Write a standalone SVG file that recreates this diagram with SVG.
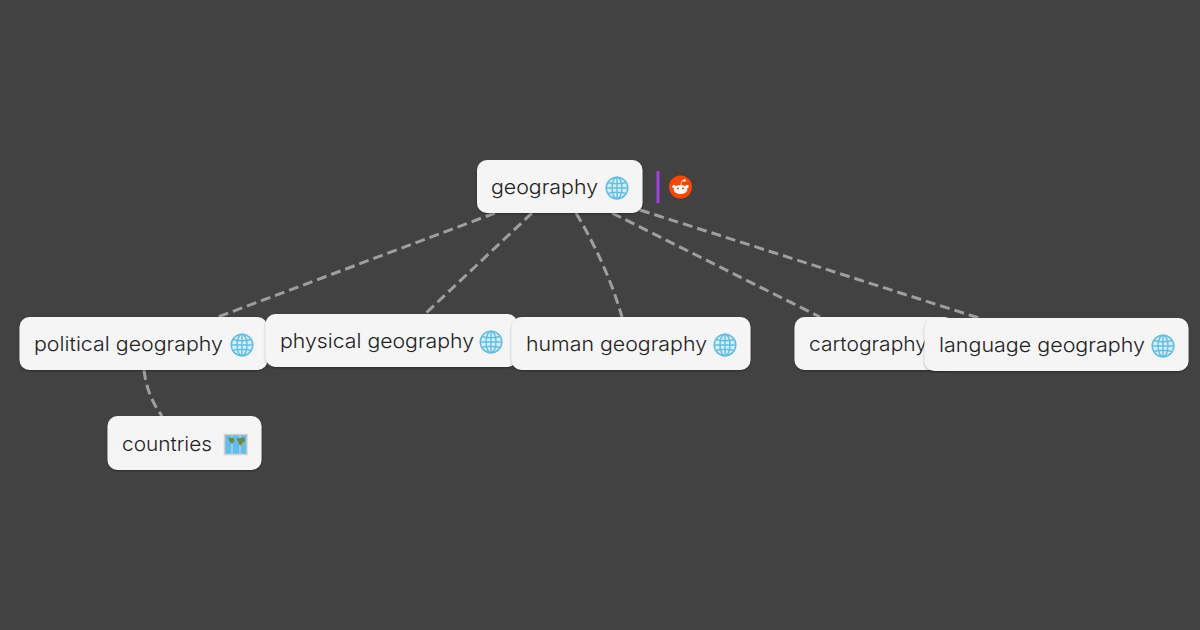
<svg xmlns="http://www.w3.org/2000/svg" width="1200" height="630" viewBox="0 0 1200 630">
<style>
.bg{fill:#424242}
.box{fill:#f5f5f5;stroke:none;filter:url(#sh)}
.t{font-family:"Inter","Lato","Liberation Sans",sans-serif;font-weight:300;font-size:20px;fill:#222}
.c{fill:none;stroke:#9e9e9e;stroke-width:3;stroke-dasharray:10 5}
</style>
<defs>
<filter id="sh" x="-10%" y="-20%" width="120%" height="150%"><feDropShadow dx="0" dy="1" stdDeviation="1" flood-color="#000" flood-opacity=".35"/></filter>
<symbol id="globe" viewBox="0 0 24 24">
<circle cx="12" cy="12" r="10.800" fill="#d6eef8" stroke="#62bfe3" stroke-width="1.500"/>
<g fill="none" stroke="#62bfe3" stroke-width="1.400">
<ellipse cx="12" cy="12" rx="5" ry="10.800"/>
<path d="M12 1.400V22.600M1.400 12H22.600M3 6.500Q12 9 21 6.500M3 17.500Q12 15 21 17.500"/>
</g>
</symbol>
</defs>
<rect class="bg" width="1200" height="630"/>
<g id="connectors">
<path class="c" d="M495 213L218 317"/>
<path class="c" d="M532 213L425 314"/>
<path class="c" d="M576 213Q607 265 622 317"/>
<path class="c" d="M612 213L820 317"/>
<path class="c" d="M640 210L979 318"/>
<path class="c" d="M144 370Q147 396 162 416"/>
</g>
<g id="n-geography"><rect class="box" x="477" y="160" width="165.500" height="53" rx="10"/><text class="t" x="491" y="194" textLength="107" lengthAdjust="spacingAndGlyphs">geography</text><use href="#globe" x="605" y="176" width="24" height="24"/></g>
<g id="n-reddit"><rect x="656.500" y="171" width="3" height="32" fill="#a73bea"/><circle cx="680.500" cy="187" r="11.500" fill="#ff4500"/><ellipse cx="680.500" cy="189.500" rx="6.800" ry="4.600" fill="#fff"/><circle cx="674" cy="186.500" r="1.700" fill="#fff"/><circle cx="687" cy="186.500" r="1.700" fill="#fff"/><circle cx="684.500" cy="180.500" r="1.300" fill="#fff"/><path d="M680.800 185L682 180.500L684.500 180.500" fill="none" stroke="#fff" stroke-width=".8"/><circle cx="678" cy="188.500" r="1" fill="#ff4500"/><circle cx="683" cy="188.500" r="1" fill="#ff4500"/></g>
<g id="n-political"><rect class="box" x="19.500" y="317" width="248" height="53" rx="10"/><text class="t" x="34" y="351" textLength="189" lengthAdjust="spacingAndGlyphs">political geography</text><use href="#globe" x="230" y="333" width="24" height="24"/></g>
<g id="n-physical"><rect class="box" x="265.500" y="314" width="252" height="53" rx="10"/><text class="t" x="280" y="348" textLength="194" lengthAdjust="spacingAndGlyphs">physical geography</text><use href="#globe" x="479" y="330" width="24" height="24"/></g>
<g id="n-human"><rect class="box" x="511.500" y="317" width="239" height="53" rx="10"/><text class="t" x="526" y="351" textLength="181" lengthAdjust="spacingAndGlyphs">human geography</text><use href="#globe" x="713" y="333" width="24" height="24"/></g>
<g id="n-cartography"><rect class="box" x="794.500" y="317" width="160" height="53" rx="10"/><text class="t" x="809" y="351" textLength="118" lengthAdjust="spacingAndGlyphs">cartography</text></g>
<g id="n-language"><rect class="box" x="924.500" y="318" width="264" height="53" rx="10"/><text class="t" x="939" y="352" textLength="206" lengthAdjust="spacingAndGlyphs">language geography</text><use href="#globe" x="1151" y="334" width="24" height="24"/></g>
<g id="n-countries"><rect class="box" x="107.500" y="416" width="154" height="54" rx="10"/><text class="t" x="122" y="451" textLength="90" lengthAdjust="spacingAndGlyphs">countries</text>
<rect x="224.500" y="434.500" width="22.500" height="20" fill="#62bdee" stroke="#dccfc2" stroke-width="1.500"/><path d="M232 434.500V454.500M240 434.500V454.500" stroke="#a9dcf3" stroke-width="1.200"/><path d="M228 438L233 437.500L234.500 441L232 444L230 442ZM236.500 438.500L244.500 437.500L245 441L242 443.500L240 446L238.500 442.500Z" fill="#6f8a3a"/><path d="M240 445L243 445.500L242 448Z" fill="#c9a83a"/></g>
</svg>
